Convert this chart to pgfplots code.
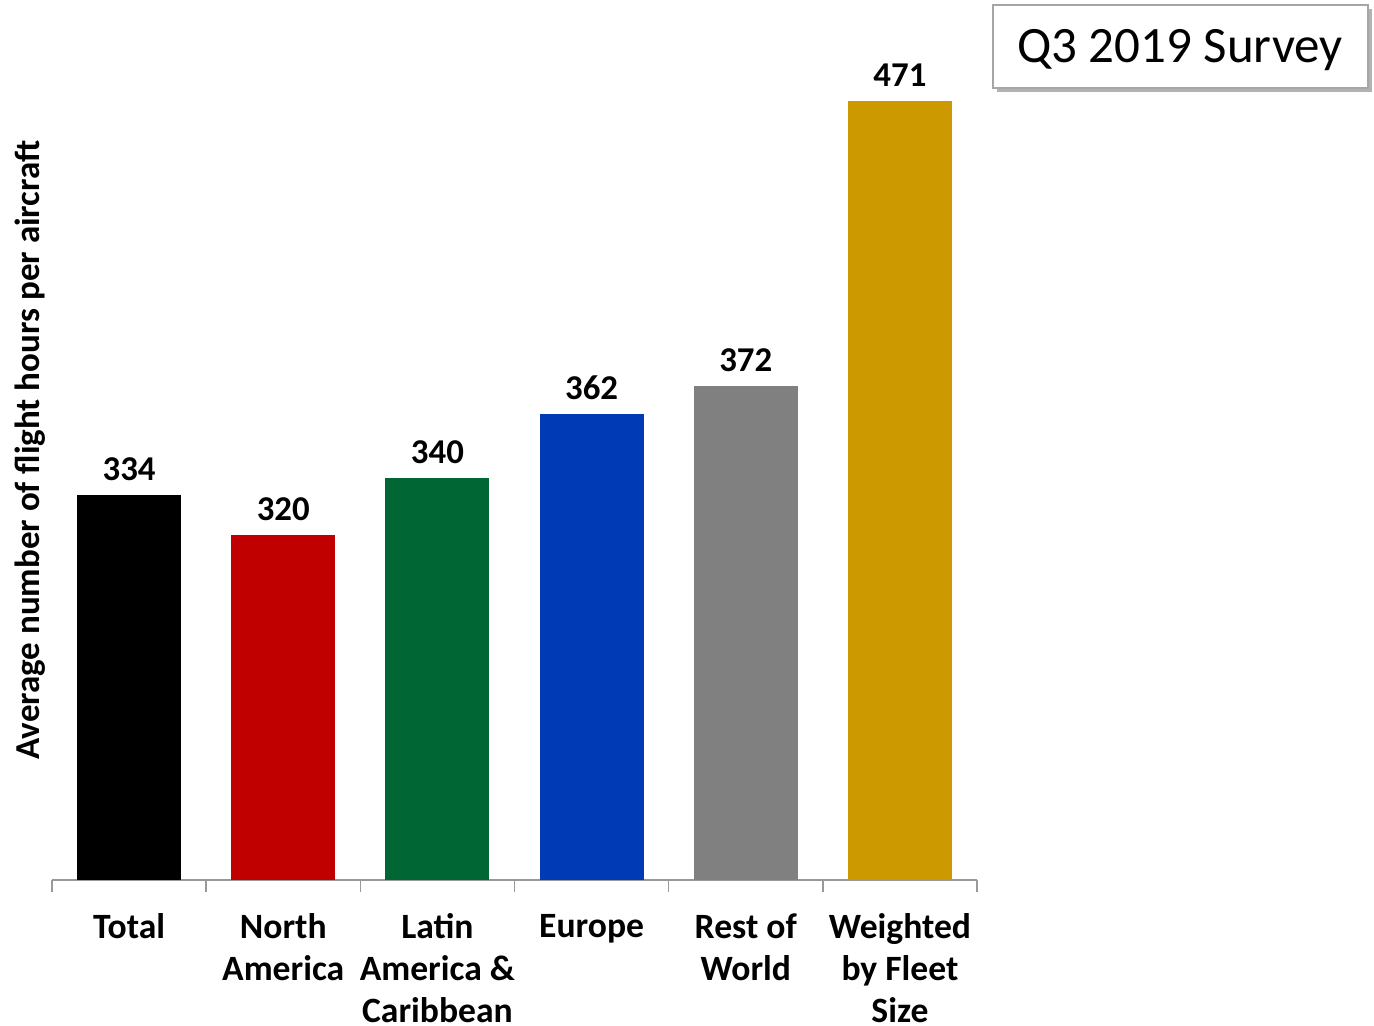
\documentclass[border=0pt]{standalone}
\usepackage{pgfplots}
\pgfplotsset{compat=1.18}
\usepackage{fontspec}
\setmainfont{Carlito}
\definecolor{cred}{HTML}{C00000}
\definecolor{cgreen}{HTML}{006633}
\definecolor{cblue}{HTML}{003BB5}
\definecolor{cgray}{HTML}{808080}
\definecolor{cgold}{HTML}{CC9900}
\begin{document}
\begin{tikzpicture}
\useasboundingbox (0,0) rectangle (687pt,-512.5pt);
\begin{axis}[
  at={(26pt,-440pt)}, anchor=south west,
  scale only axis, width=462.5pt, height=431.1pt,
  xmin=-0.5, xmax=5.5, ymin=200, ymax=500,
  axis x line*=bottom, axis y line=none,
  x axis line style={draw=gray!80, line width=0.8pt},
  ybar, bar width=52pt, bar shift=0pt,
  xtick={0,...,5},
  xticklabels={Total, North\\America, Latin\\America \&\\Caribbean, Europe, Rest of\\World, Weighted\\by Fleet\\Size},
  xticklabel style={font=\bfseries\fontsize{17.8}{20.8}\selectfont, align=center, anchor=north, inner sep=0pt, yshift=-12.5pt},
  major x tick style={draw=none},
  extra x ticks={-0.5,0.5,1.5,2.5,3.5,4.5,5.5},
  extra x tick labels={},
  extra x tick style={tick align=outside, major tick length=6pt, major x tick style={draw=gray!80, line width=0.8pt}},
  /pgf/number format/assume math mode=true,
  nodes near coords,
  nodes near coords style={font=\bfseries\fontsize{17.4}{21}\selectfont, anchor=south, inner sep=0pt, yshift=7pt, text=black},
  clip=false,
]
\addplot[fill=black, draw=none] coordinates {(0,334)};
\addplot[fill=cred, draw=none] coordinates {(1,320)};
\addplot[fill=cgreen, draw=none] coordinates {(2,340)};
\addplot[fill=cblue, draw=none] coordinates {(3,362)};
\addplot[fill=cgray, draw=none] coordinates {(4,372)};
\addplot[fill=cgold, draw=none] coordinates {(5,471)};
\end{axis}
\node[rotate=90, font=\bfseries\fontsize{17.5}{21}\selectfont, inner sep=0pt] at (15pt,-225pt) {Average number of flight hours per aircraft};
\fill[gray!60] (498.5pt,-4.5pt) rectangle (686pt,-46pt);
\draw[fill=white, draw=gray!70, line width=0.8pt] (496.5pt,-2.5pt) rectangle (684pt,-44pt);
\node[font=\fontsize{25.5}{30}\selectfont, inner sep=0pt] at (590pt,-25pt) {Q3 2019 Survey};
\end{tikzpicture}
\end{document}
